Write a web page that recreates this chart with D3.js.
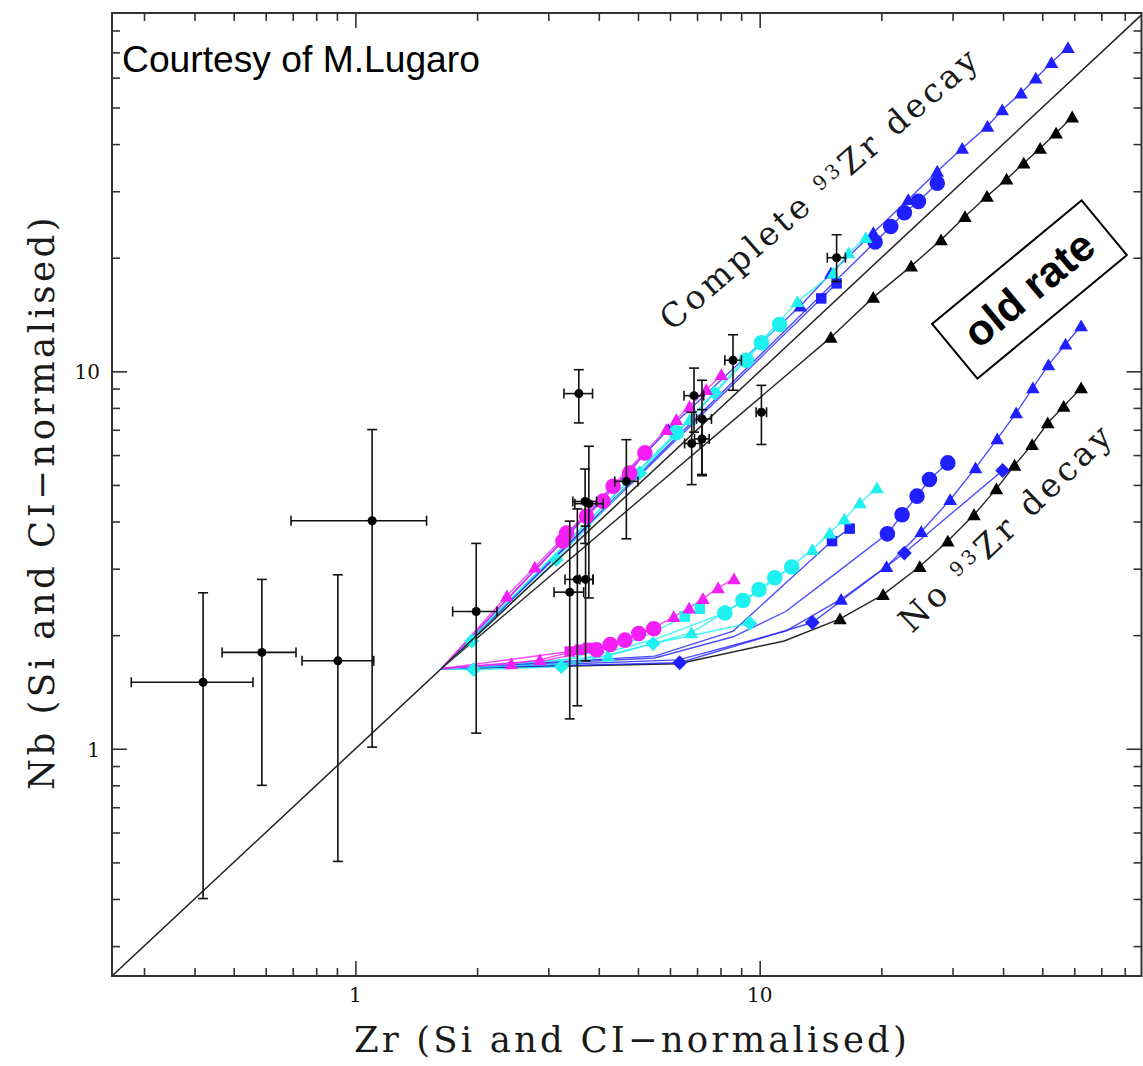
<!DOCTYPE html>
<html>
<head>
<meta charset="utf-8">
<script src="https://cdn.jsdelivr.net/npm/d3@7"></script>
<style>
  body { margin: 0; background: #fff; }
</style>
</head>
<body>
<div id="chart"></div>
<script>
//**********************************************************************************************
//                                  DATA
//**********************************************************************************************

// axis ticks
const X_MAJOR = [1, 10];
const X_MINOR = [0.3, 0.4, 0.5, 0.6, 0.7, 0.8, 0.9, 2, 3, 4, 5, 6, 7, 8, 9, 20, 30, 40, 50, 60, 70, 80];
const Y_MAJOR = [1, 10];
const Y_MINOR = [0.3, 0.4, 0.5, 0.6, 0.7, 0.8, 0.9, 2, 3, 4, 5, 6, 7, 8, 9, 20, 30, 40, 50, 60, 70, 80];
const X_TICK_LABELS = ['1', '10'];
const Y_TICK_LABELS = ['1', '10'];

// model tracks: [Zr, Nb, marked?]  (all start from the same initial composition)
// complete 93Zr decay
const decayMagentaTri = [[1.63, 1.63], [2.37, 2.54, 1], [2.78, 3.03, 1], [5.88, 7.01, 1], [6.22, 7.45, 1], [6.71, 8.08, 1], [7.38, 8.94, 1], [8.04, 9.80, 1]];
const decayMagentaCirc = [[1.63, 1.63], [3.26, 3.55, 1], [3.33, 3.73, 1], [3.73, 4.13, 1], [4.10, 4.53, 1], [4.34, 4.96, 1], [4.77, 5.38, 1], [5.20, 6.08, 1]];
const decayCyanDia = [[1.63, 1.63], [1.94, 1.93, 1], [3.14, 3.17, 1], [5.05, 5.38, 1], [7.74, 8.77, 1]];
const decayCyanCirc = [[1.63, 1.63], [6.22, 6.87, 1], [9.27, 10.7, 1], [10.1, 11.9, 1], [11.2, 13.3, 1]];
const decayCyanTri = [[1.63, 1.63], [6.71, 7.45, 1], [12.4, 15.3, 1], [15.2, 18.2, 1], [16.6, 20.6, 1], [18.3, 22.6, 1]];
const decayBlueSq = [[1.63, 1.63], [14.2, 15.6, 1], [15.5, 17.1, 1]];
const decayBlueCirc = [[1.63, 1.63], [19.3, 22.0, 1], [21.1, 24.2, 1], [22.8, 26.3, 1], [24.7, 28.2, 1], [27.5, 31.5, 1]];
const decayBlueTri = [[1.63, 1.63], [5.94, 7.01, 1], [12.6, 14.9, 1], [15.0, 18.2, 1], [19.1, 23.3, 1], [23.3, 28.5, 1], [27.5, 33.9, 1], [31.7, 39.0, 1], [36.6, 44.6, 1], [39.8, 49.3, 1], [44.3, 54.6, 1], [48.2, 59.8, 1], [52.7, 65.8, 1], [57.9, 72.1, 1]];
// old rate
const oldRateBlack = [[1.63, 1.63], [15.0, 12.3, 1], [19.1, 15.7, 1], [23.7, 19.0, 1], [28.1, 22.3, 1], [32.2, 25.7, 1], [36.5, 29.1, 1], [40.8, 32.3, 1], [45.0, 35.6, 1], [49.4, 39.0, 1], [54.1, 42.8, 1], [59.3, 47.2, 1]];
// no 93Zr decay
const noDecayMagentaTri = [[1.63, 1.63], [2.43, 1.68, 1], [2.86, 1.72, 1], [3.39, 1.80], [3.95, 1.84], [4.64, 1.95], [5.47, 2.09], [6.13, 2.24, 1], [6.69, 2.36, 1], [7.24, 2.50, 1], [7.89, 2.67, 1], [8.64, 2.82, 1]];
const noDecayMagentaCirc = [[1.63, 1.63], [3.0, 1.72], [3.95, 1.83, 1], [4.27, 1.89, 1], [4.64, 1.94, 1], [5.02, 2.02, 1], [5.47, 2.08, 1]];
const noDecayMagentaSq = [[1.63, 1.63], [3.39, 1.81, 1], [3.59, 1.83, 1], [3.76, 1.85, 1]];
const noDecayCyanDia = [[1.63, 1.63], [1.96, 1.62, 1], [3.23, 1.65, 1], [5.45, 1.90, 1], [9.45, 2.15, 1]];
const noDecayCyanSq = [[1.63, 1.63], [3.3, 1.72], [5.0, 1.95], [6.53, 2.24, 1], [7.11, 2.35, 1]];
const noDecayCyanCirc = [[1.63, 1.63], [3.3, 1.68], [5.5, 1.95], [8.20, 2.29, 1], [9.09, 2.47, 1], [9.96, 2.64, 1], [10.9, 2.84, 1], [12.0, 3.03, 1]];
const noDecayCyanTri = [[1.63, 1.63], [4.22, 1.76, 1], [6.78, 2.03, 1], [10.0, 2.62], [13.5, 3.37, 1], [14.9, 3.73, 1], [16.2, 4.06, 1], [17.7, 4.48, 1], [19.5, 4.91, 1]];
const noDecayBlueSq = [[1.63, 1.63], [5.5, 1.76], [8.6, 2.05], [11.6, 2.75], [15.1, 3.55, 1], [16.7, 3.83, 1]];
const noDecayBlueCirc = [[1.63, 1.63], [5.5, 1.74], [8.6, 1.98], [11.6, 2.31], [15.0, 2.85], [20.7, 3.71, 1], [22.5, 4.17, 1], [24.5, 4.67, 1], [26.3, 5.17, 1], [29.2, 5.72, 1]];
const noDecayBlueDia = [[1.63, 1.63], [6.34, 1.69, 1], [13.5, 2.16, 1], [22.8, 3.30, 1], [39.9, 5.46, 1]];
const noDecayBlueTri = [[1.63, 1.63], [6.3, 1.72], [11.6, 2.05], [15.9, 2.49, 1], [20.6, 3.04, 1], [25.1, 3.76, 1], [29.6, 4.57, 1], [34.2, 5.55, 1], [38.7, 6.62, 1], [43.1, 7.76, 1], [47.4, 9.04, 1], [51.8, 10.4, 1], [57.1, 11.8, 1], [62.4, 13.2, 1]];
const noDecayBlack = [[1.63, 1.63], [6.3, 1.68], [11.5, 1.93], [15.8, 2.21, 1], [20.2, 2.56, 1], [24.9, 3.04, 1], [29.2, 3.55, 1], [33.9, 4.17, 1], [38.5, 4.88, 1], [42.7, 5.64, 1], [47.2, 6.40, 1], [51.6, 7.30, 1], [56.5, 8.08, 1], [62.4, 9.04, 1]];

// SiC grains: [Zr, Nb, ZrLo, ZrHi, NbLo, NbHi]
const grains = [
    [0.42, 1.50, 0.279, 0.558, 0.401, 2.59],
    [0.587, 1.80, 0.468, 0.713, 0.80, 2.81],
    [0.905, 1.71, 0.738, 1.11, 0.503, 2.89],
    [1.10, 4.02, 0.693, 1.50, 1.01, 7.01],
    [1.99, 2.31, 1.74, 2.24, 1.10, 3.50],
    [3.39, 2.60, 3.10, 3.67, 1.20, 4.01],
    [3.54, 2.81, 3.30, 3.87, 1.30, 4.32],
    [3.71, 2.81, 3.59, 3.87, 1.71, 3.89],
    [3.78, 4.46, 3.49, 4.10, 2.51, 6.33],
    [3.70, 4.52, 3.45, 3.95, 3.50, 5.51],
    [4.68, 5.11, 4.38, 5.00, 3.60, 6.59],
    [3.57, 8.73, 3.28, 3.86, 7.30, 10.1],
    [6.88, 8.62, 6.50, 7.27, 6.90, 10.2],
    [6.79, 6.44, 6.52, 7.12, 5.01, 7.79],
    [7.20, 7.48, 6.98, 7.60, 5.33, 9.47],
    [7.20, 6.62, 6.90, 7.50, 5.29, 7.92],
    [8.59, 10.7, 8.20, 9.01, 8.91, 12.5],
    [10.1, 7.79, 9.80, 10.4, 6.40, 9.18],
    [15.5, 20.0, 14.7, 16.3, 17.3, 23.0]
];

//**********************************************************************************************
//                                  CONSTANTS FOR CHART SIZE
//**********************************************************************************************
const TOTAL_WIDTH = 1143;
const TOTAL_HEIGHT = 1066;
const PLOT_LEFT = 112;
const PLOT_RIGHT = 1141.5;
const PLOT_TOP = 13;
const PLOT_BOTTOM = 976;
const MAJOR_TICK = 15;
const MINOR_TICK = 8;
const FRAME_COLOR = '#333';

const BLUE = '#1f1fff';
const CYAN = '#1ff0f0';
const MAGENTA = '#f51ff5';
const BLACK = '#000';

const SERIF = '"DejaVu Serif", "Liberation Serif", serif';
const SANS = '"Liberation Sans", Arial, sans-serif';

// which style each track gets
const tracks = [
    { pts: noDecayBlack, color: BLACK, shape: 'tri' },
    { pts: noDecayBlueTri, color: BLUE, shape: 'tri' },
    { pts: noDecayBlueDia, color: BLUE, shape: 'dia' },
    { pts: noDecayBlueCirc, color: BLUE, shape: 'circ' },
    { pts: noDecayBlueSq, color: BLUE, shape: 'sq' },
    { pts: noDecayCyanTri, color: CYAN, shape: 'tri' },
    { pts: noDecayCyanCirc, color: CYAN, shape: 'circ' },
    { pts: noDecayCyanSq, color: CYAN, shape: 'sq' },
    { pts: noDecayCyanDia, color: CYAN, shape: 'dia' },
    { pts: noDecayMagentaSq, color: MAGENTA, shape: 'sq' },
    { pts: noDecayMagentaCirc, color: MAGENTA, shape: 'circ' },
    { pts: noDecayMagentaTri, color: MAGENTA, shape: 'tri' },
    { pts: oldRateBlack, color: BLACK, shape: 'tri' },
    { pts: decayBlueTri, color: BLUE, shape: 'tri' },
    { pts: decayBlueCirc, color: BLUE, shape: 'circ' },
    { pts: decayBlueSq, color: BLUE, shape: 'sq' },
    { pts: decayCyanTri, color: CYAN, shape: 'tri' },
    { pts: decayCyanCirc, color: CYAN, shape: 'circ' },
    { pts: decayCyanDia, color: CYAN, shape: 'dia' },
    { pts: decayMagentaCirc, color: MAGENTA, shape: 'circ' },
    { pts: decayMagentaTri, color: MAGENTA, shape: 'tri' }
];

//**********************************************************************************************
//                                  GENERAL SET UP
//**********************************************************************************************
const svg = d3.select('#chart').append('svg')
    .attr('width', TOTAL_WIDTH)
    .attr('height', TOTAL_HEIGHT)
    .style('display', 'block');

const scaleX = d3.scaleLog().domain([0.25, 88]).range([PLOT_LEFT, PLOT_RIGHT]);
const scaleY = d3.scaleLog().domain([0.25, 89]).range([PLOT_BOTTOM, PLOT_TOP]);

svg.append('clipPath').attr('id', 'plot_clip')
    .append('rect')
    .attr('x', PLOT_LEFT).attr('y', PLOT_TOP)
    .attr('width', PLOT_RIGHT - PLOT_LEFT).attr('height', PLOT_BOTTOM - PLOT_TOP);

const plot = svg.append('g').attr('clip-path', 'url(#plot_clip)');

//**********************************************************************************************
//                                  MODEL TRACKS
//**********************************************************************************************
const lineGenerator = d3.line()
    .x(d => scaleX(d[0]))
    .y(d => scaleY(d[1]));

const SYMBOLS = {
    tri: d3.symbol().type(d3.symbolTriangle).size(80),
    circ: d3.symbol().type(d3.symbolCircle).size(190),
    sq: d3.symbol().type(d3.symbolSquare).size(110),
    dia: d3.symbol().type(d3.symbolSquare).size(110)
};

tracks.forEach(t => {
    plot.append('path')
        .datum(t.pts)
        .attr('d', lineGenerator)
        .attr('fill', 'none')
        .attr('stroke', t.color)
        .attr('stroke-opacity', t.color === BLACK ? 0.85 : 0.8)
        .attr('stroke-width', 1.4);
});

tracks.forEach(t => {
    plot.selectAll(null)
        .data(t.pts.filter(d => d[2]))
        .join('path')
        .attr('d', SYMBOLS[t.shape])
        .attr('fill', t.color)
        .attr('transform', d => `translate(${scaleX(d[0])},${scaleY(d[1])})` +
            (t.shape === 'dia' ? ' rotate(45)' : '') +
            (t.shape === 'tri' ? ' translate(0,1.5)' : ''));
});

// 1:1 line
plot.append('path')
    .datum([[0.25, 0.25], [88, 88]])
    .attr('d', lineGenerator)
    .attr('fill', 'none')
    .attr('stroke', '#222')
    .attr('stroke-width', 1.5);

//**********************************************************************************************
//                                  GRAINS WITH ERROR BARS
//**********************************************************************************************
const CAP = 5;
const grainG = plot.append('g').attr('stroke', '#111').attr('stroke-width', 1.6);

grains.forEach(g => {
    const cx = scaleX(g[0]), cy = scaleY(g[1]);
    const x0 = scaleX(g[2]), x1 = scaleX(g[3]);
    const y0 = scaleY(g[4]), y1 = scaleY(g[5]);
    grainG.append('line').attr('x1', x0).attr('x2', x1).attr('y1', cy).attr('y2', cy);
    grainG.append('line').attr('x1', cx).attr('x2', cx).attr('y1', y0).attr('y2', y1);
    [x0, x1].forEach(xx => grainG.append('line').attr('x1', xx).attr('x2', xx).attr('y1', cy - CAP).attr('y2', cy + CAP));
    [y0, y1].forEach(yy => grainG.append('line').attr('x1', cx - CAP).attr('x2', cx + CAP).attr('y1', yy).attr('y2', yy));
    grainG.append('circle').attr('cx', cx).attr('cy', cy).attr('r', 4.5).attr('fill', '#000').attr('stroke', 'none');
});

//**********************************************************************************************
//                                  FRAME AND TICKS
//**********************************************************************************************
function styleAxis(sel) {
    sel.select('.domain').remove();
    sel.selectAll('.tick line').attr('stroke', FRAME_COLOR).attr('stroke-width', 1.6);
    sel.selectAll('text').remove();
}

[[X_MAJOR, MAJOR_TICK], [X_MINOR, MINOR_TICK]].forEach(([vals, len]) => {
    svg.append('g').attr('transform', `translate(0,${PLOT_BOTTOM})`)
        .call(d3.axisTop(scaleX).tickValues(vals).tickSize(len)).call(styleAxis);
    svg.append('g').attr('transform', `translate(0,${PLOT_TOP})`)
        .call(d3.axisBottom(scaleX).tickValues(vals).tickSize(len)).call(styleAxis);
});
[[Y_MAJOR, MAJOR_TICK], [Y_MINOR, MINOR_TICK]].forEach(([vals, len]) => {
    svg.append('g').attr('transform', `translate(${PLOT_LEFT},0)`)
        .call(d3.axisRight(scaleY).tickValues(vals).tickSize(len)).call(styleAxis);
    svg.append('g').attr('transform', `translate(${PLOT_RIGHT},0)`)
        .call(d3.axisLeft(scaleY).tickValues(vals).tickSize(len)).call(styleAxis);
});

svg.append('rect')
    .attr('x', PLOT_LEFT).attr('y', PLOT_TOP)
    .attr('width', PLOT_RIGHT - PLOT_LEFT).attr('height', PLOT_BOTTOM - PLOT_TOP)
    .attr('fill', 'none')
    .attr('stroke', FRAME_COLOR)
    .attr('stroke-width', 2);

// tick labels
svg.selectAll('.xlab')
    .data(X_MAJOR)
    .join('text')
    .attr('x', d => scaleX(d))
    .attr('y', PLOT_BOTTOM + 26)
    .attr('text-anchor', 'middle')
    .attr('font-family', SERIF)
    .attr('font-size', 20)
    .attr('fill', '#111')
    .text((d, i) => X_TICK_LABELS[i]);

svg.selectAll('.ylab')
    .data(Y_MAJOR)
    .join('text')
    .attr('x', PLOT_LEFT - 12)
    .attr('y', d => scaleY(d) + 8)
    .attr('text-anchor', 'end')
    .attr('font-family', SERIF)
    .attr('font-size', 20)
    .attr('fill', '#111')
    .text((d, i) => Y_TICK_LABELS[i]);

//**********************************************************************************************
//                                  TEXT
//**********************************************************************************************
// stretch a text to a given length through its letter spacing
function fitSpacing(sel, target, n) {
    const w = sel.node().getComputedTextLength();
    sel.attr('letter-spacing', Math.max(0, (target - w) / (n || sel.text().length)));
}
function fitWidth(sel, target) {
    const w = sel.node().getBBox().width;
    sel.attr('font-size', parseFloat(sel.attr('font-size')) * target / w);
}

const xTitle = svg.append('text')
    .attr('x', 354).attr('y', 1052)
    .attr('font-family', SERIF)
    .attr('font-size', 35.5)
    .attr('fill', '#1a1a1a')
    .text('Zr (Si and CI\u2212normalised)');
fitSpacing(xTitle, 556);

const yTitle = svg.append('text')
    .attr('transform', 'translate(54,790) rotate(-90)')
    .attr('font-family', SERIF)
    .attr('font-size', 35.5)
    .attr('fill', '#1a1a1a')
    .text('Nb (Si and CI\u2212normalised)');
fitSpacing(yTitle, 576);

const courtesy = svg.append('text')
    .attr('x', 122).attr('y', 72)
    .attr('font-family', SANS)
    .attr('font-size', 32)
    .attr('fill', '#000')
    .text('Courtesy of M.Lugaro');
fitWidth(courtesy, 358);

function rotatedLabel(x, y, angle, first, last, target) {
    const t = svg.append('text')
        .attr('transform', `translate(${x},${y}) rotate(${angle})`)
        .attr('font-family', SERIF)
        .attr('font-size', 33)
        .attr('fill', '#1a1a1a');
    t.append('tspan').text(first + ' ');
    t.append('tspan').attr('font-size', '0.6em').attr('dy', '-0.45em').text('93');
    t.append('tspan').attr('dy', '0.27em').text('Zr ' + last);
    fitSpacing(t, target, (first + ' 93Zr ' + last).length);
    return t;
}
rotatedLabel(672, 332, -41, 'Complete', 'decay', 412);
rotatedLabel(912, 634, -44, 'No', 'decay', 284);

// old rate box
const box = svg.append('g').attr('transform', 'translate(1029.5,289.5) rotate(-39.6)');
box.append('rect')
    .attr('x', -97).attr('y', -35.5)
    .attr('width', 194).attr('height', 71)
    .attr('fill', '#fff')
    .attr('stroke', '#000')
    .attr('stroke-width', 2);
box.append('text')
    .attr('x', 0).attr('y', 14)
    .attr('text-anchor', 'middle')
    .attr('font-family', SANS)
    .attr('font-weight', 'bold')
    .attr('font-size', 43)
    .attr('fill', '#000')
    .text('old rate');
</script>
</body>
</html>
